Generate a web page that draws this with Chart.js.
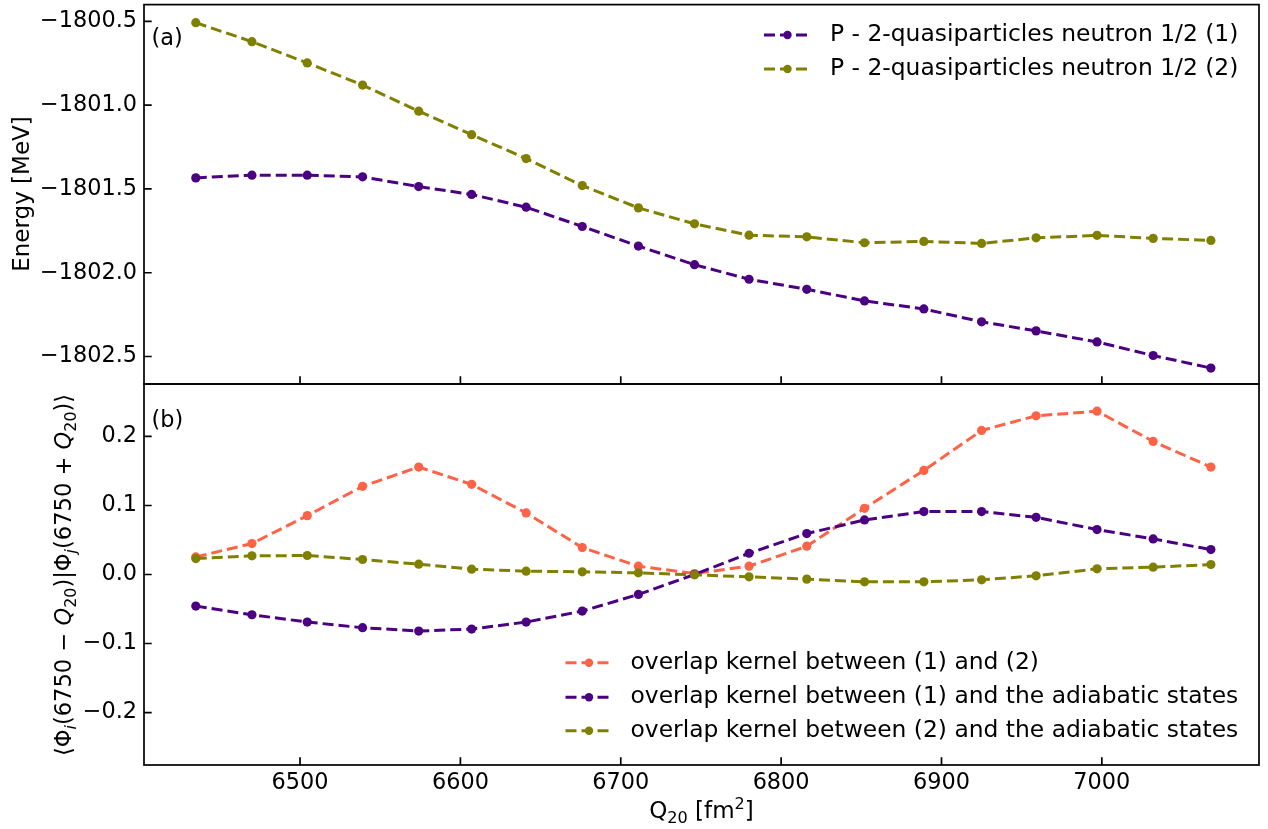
<!DOCTYPE html>
<html><head><meta charset="utf-8">
<script src="https://cdn.jsdelivr.net/npm/chart.js@4.4.1/dist/chart.umd.min.js"></script>
<style>
html,body{margin:0;padding:0;background:#fff;}
#wrap{position:relative;width:1268px;height:829px;background:#fff;}
canvas{position:absolute;left:0;top:0;}
</style></head><body>
<div id="wrap"><canvas id="c1" width="1268" height="829"></canvas><canvas id="c2" width="1268" height="829"></canvas></div>
<script>
// ---- data ----
const q20 = [6435, 6470, 6504.5, 6539, 6574, 6607, 6641, 6676, 6711, 6746, 6780, 6816, 6852, 6889, 6925, 6959, 6997, 7032, 7068];
const energyState1 = [-1801.434, -1801.418, -1801.418, -1801.428, -1801.486, -1801.533, -1801.609, -1801.724, -1801.841, -1801.952, -1802.039, -1802.099, -1802.168, -1802.216, -1802.293, -1802.347, -1802.413, -1802.494, -1802.569];
const energyState2 = [-1800.508, -1800.621, -1800.748, -1800.880, -1801.036, -1801.176, -1801.319, -1801.480, -1801.613, -1801.708, -1801.776, -1801.786, -1801.821, -1801.813, -1801.825, -1801.792, -1801.777, -1801.795, -1801.807];
const overlap12 = [0.0255, 0.0448, 0.0853, 0.1277, 0.1557, 0.1306, 0.0892, 0.0390, 0.0120, 0.0014, 0.0120, 0.0410, 0.0959, 0.1508, 0.2087, 0.2299, 0.2366, 0.1928, 0.1557];
const overlap1Adiabatic = [-0.0458, -0.0583, -0.0689, -0.0771, -0.0819, -0.0790, -0.0689, -0.0530, -0.0289, 0.0000, 0.0308, 0.0593, 0.0790, 0.0911, 0.0911, 0.0829, 0.0651, 0.0516, 0.0361];
const overlap2Adiabatic = [0.0231, 0.0270, 0.0275, 0.0217, 0.0149, 0.0077, 0.0048, 0.0039, 0.0024, -0.0005, -0.0034, -0.0067, -0.0106, -0.0106, -0.0077, -0.0019, 0.0082, 0.0106, 0.0145];
const xTickValues = [6500, 6600, 6700, 6800, 6900, 7000];
const energyTickValues = [-1800.5, -1801.0, -1801.5, -1802.0, -1802.5];
const overlapTickValues = [0.2, 0.1, 0.0, -0.1, -0.2];
const topLabels = ['P - 2-quasiparticles neutron 1/2 (1)', 'P - 2-quasiparticles neutron 1/2 (2)'];
const bottomLabels = ['overlap kernel between (1) and (2)', 'overlap kernel between (1) and the adiabatic states', 'overlap kernel between (2) and the adiabatic states'];

const PURPLE = '#4B0082', OLIVE = '#808000', TOMATO = '#FF6347';
const FAM = '"DejaVu Sans"';
const TICKSZ = 22.4;
const LEG = '23.4px ' + FAM, PANEL = '22.4px ' + FAM;
const T = 23, TS = 16.1;
const REG = T + 'px ' + FAM, SUB = TS + 'px ' + FAM;
const Y2 = 22.6, Y2S = 15.8;
const YREG = Y2 + 'px ' + FAM, YIT = 'italic ' + Y2 + 'px ' + FAM, YSUB = Y2S + 'px ' + FAM, YSUBIT = 'italic ' + Y2S + 'px ' + FAM;
const DASH = [11, 5], LW = 3, PR = 4.6;

Chart.defaults.font.family = FAM;
Chart.defaults.font.size = TICKSZ;
Chart.defaults.color = '#000';

function pts(ys) { return q20.map((x, i) => ({x: x, y: ys[i]})); }
function ds(label, ys, color, order) {
  return {label, data: pts(ys), borderColor: color, backgroundColor: color, borderWidth: LW, borderDash: DASH,
    pointRadius: PR, pointBorderWidth: 0, pointBackgroundColor: color, pointHoverRadius: PR, tension: 0, fill: false, order};
}
function fmt(v) { return (Math.abs(v) < 1e-9 ? 0 : v).toFixed(1).replace('-', '\u2212'); }

function drawSegs(ctx, segs, x, y, rotate) {
  ctx.save();
  ctx.translate(x, y);
  if (rotate) ctx.rotate(-Math.PI / 2);
  let total = 0;
  segs.forEach(s => { ctx.font = s.f; s.w = ctx.measureText(s.t).width; total += s.w; });
  let cx = -total / 2;
  ctx.textBaseline = 'alphabetic'; ctx.textAlign = 'left'; ctx.fillStyle = '#000';
  segs.forEach(s => { ctx.font = s.f; ctx.fillText(s.t, cx, s.dy || 0); cx += s.w; });
  ctx.restore();
}

const decor = {
  id: 'decor',
  afterDraw(chart, args, o) {
    const ctx = chart.ctx;
    const {left, right, top, bottom} = chart.chartArea;
    const xs = chart.scales.x, ys = chart.scales.y;
    ctx.save();
    ctx.strokeStyle = '#000'; ctx.lineWidth = 1.7;
    ctx.beginPath();
    xTickValues.forEach(v => { const p = xs.getPixelForValue(v); ctx.moveTo(p, bottom); ctx.lineTo(p, bottom - 7.7); });
    o.yTicks.forEach(v => { const p = ys.getPixelForValue(v); ctx.moveTo(left, p); ctx.lineTo(left + 7.7, p); });
    ctx.stroke();
    ctx.strokeRect(left, top, right - left, bottom - top);
    // legend
    const lg = o.legend;
    lg.items.forEach((it, i) => {
      const y = lg.rows[i];
      ctx.save();
      ctx.strokeStyle = it.color; ctx.lineWidth = LW; ctx.setLineDash(DASH);
      ctx.beginPath(); ctx.moveTo(lg.x0, y); ctx.lineTo(lg.x0 + 47, y); ctx.stroke();
      ctx.setLineDash([]);
      ctx.fillStyle = it.color; ctx.beginPath(); ctx.arc(lg.x0 + 23.5, y, 4.2, 0, Math.PI * 2); ctx.fill();
      ctx.restore();
      ctx.fillStyle = '#000'; ctx.font = LEG; ctx.textAlign = 'left'; ctx.textBaseline = 'middle';
      ctx.fillText(it.text, lg.textX, y);
    });
    // panel label
    ctx.fillStyle = '#000'; ctx.font = PANEL; ctx.textAlign = 'left'; ctx.textBaseline = 'alphabetic';
    ctx.fillText(o.panel.text, o.panel.x, o.panel.y);
    // axis titles
    o.titles.forEach(t => drawSegs(ctx, t.segs, t.x, t.y, t.rot));
    ctx.restore();
  }
};
Chart.register(decor);

function yScale(min, max, ticksArr) {
  return {
    type: 'linear', min, max,
    afterBuildTicks: s => { s.ticks = ticksArr.map(v => ({value: v})); },
    afterFit: s => { s.width = 144; s.paddingTop = 0; s.paddingBottom = 0; },
    grid: {display: false, drawTicks: false}, border: {display: false},
    ticks: {padding: 7, font: {size: TICKSZ, family: FAM}, color: '#000', callback: v => fmt(v)}
  };
}
function xScale(show) {
  return {
    type: 'linear', min: 6402.7, max: 7098, display: show,
    afterBuildTicks: s => { s.ticks = xTickValues.map(v => ({value: v})); },
    afterFit: s => { s.height = show ? 64 : 0; s.paddingLeft = 0; s.paddingRight = 0; },
    grid: {display: false, drawTicks: false}, border: {display: false},
    ticks: {padding: 5, maxRotation: 0, autoSkip: false, font: {size: TICKSZ, family: FAM}, color: '#000', callback: v => String(v)}
  };
}

new Chart(document.getElementById('c1'), {
  type: 'line',
  data: {datasets: [ds(topLabels[0], energyState1, PURPLE, 2), ds(topLabels[1], energyState2, OLIVE, 1)]},
  options: {
    responsive: false, animation: false, devicePixelRatio: 1,
    layout: {padding: {left: 0, right: 9, top: 4, bottom: 445}},
    plugins: {legend: {display: false}, tooltip: {enabled: false},
      decor: {
        yTicks: energyTickValues,
        legend: {x0: 764, textX: 830, rows: [35, 69], items: [{text: topLabels[0], color: PURPLE}, {text: topLabels[1], color: OLIVE}]},
        panel: {text: '(a)', x: 151.5, y: 45},
        titles: [{rot: true, x: 28.8, y: 194, segs: [{t: 'Energy [MeV]', f: REG}]}]
      }},
    scales: {x: xScale(false), y: yScale(-1802.664, -1800.40, energyTickValues)}
  }
});

new Chart(document.getElementById('c2'), {
  type: 'line',
  data: {datasets: [ds(bottomLabels[0], overlap12, TOMATO, 3), ds(bottomLabels[1], overlap1Adiabatic, PURPLE, 2), ds(bottomLabels[2], overlap2Adiabatic, OLIVE, 1)]},
  options: {
    responsive: false, animation: false, devicePixelRatio: 1,
    layout: {padding: {left: 0, right: 9, top: 384, bottom: 0}},
    plugins: {legend: {display: false}, tooltip: {enabled: false},
      decor: {
        yTicks: overlapTickValues,
        legend: {x0: 565.5, textX: 630.5, rows: [662.7, 697.3, 730.7], items: [{text: bottomLabels[0], color: TOMATO}, {text: bottomLabels[1], color: PURPLE}, {text: bottomLabels[2], color: OLIVE}]},
        panel: {text: '(b)', x: 151.5, y: 427},
        titles: [
          {rot: true, x: 71, y: 575, segs: [
            {t: '\u27E8\u03A6', f: YREG}, {t: 'i', f: YSUBIT, dy: 5}, {t: '(6750 \u2212 ', f: YREG}, {t: 'Q', f: YIT}, {t: '20', f: YSUB, dy: 5},
            {t: ')|\u03A6', f: YREG}, {t: 'j', f: YSUBIT, dy: 5}, {t: '(6750 + ', f: YREG}, {t: 'Q', f: YIT}, {t: '20', f: YSUB, dy: 5}, {t: ')\u27E9', f: YREG}]},
          {rot: false, x: 701.5, y: 818, segs: [{t: 'Q', f: REG}, {t: '20', f: SUB, dy: 5}, {t: ' [fm', f: REG}, {t: '2', f: SUB, dy: -9}, {t: ']', f: REG}]}
        ]
      }},
    scales: {x: xScale(true), y: yScale(-0.276, 0.276, overlapTickValues)}
  }
});
</script>
</body></html>
